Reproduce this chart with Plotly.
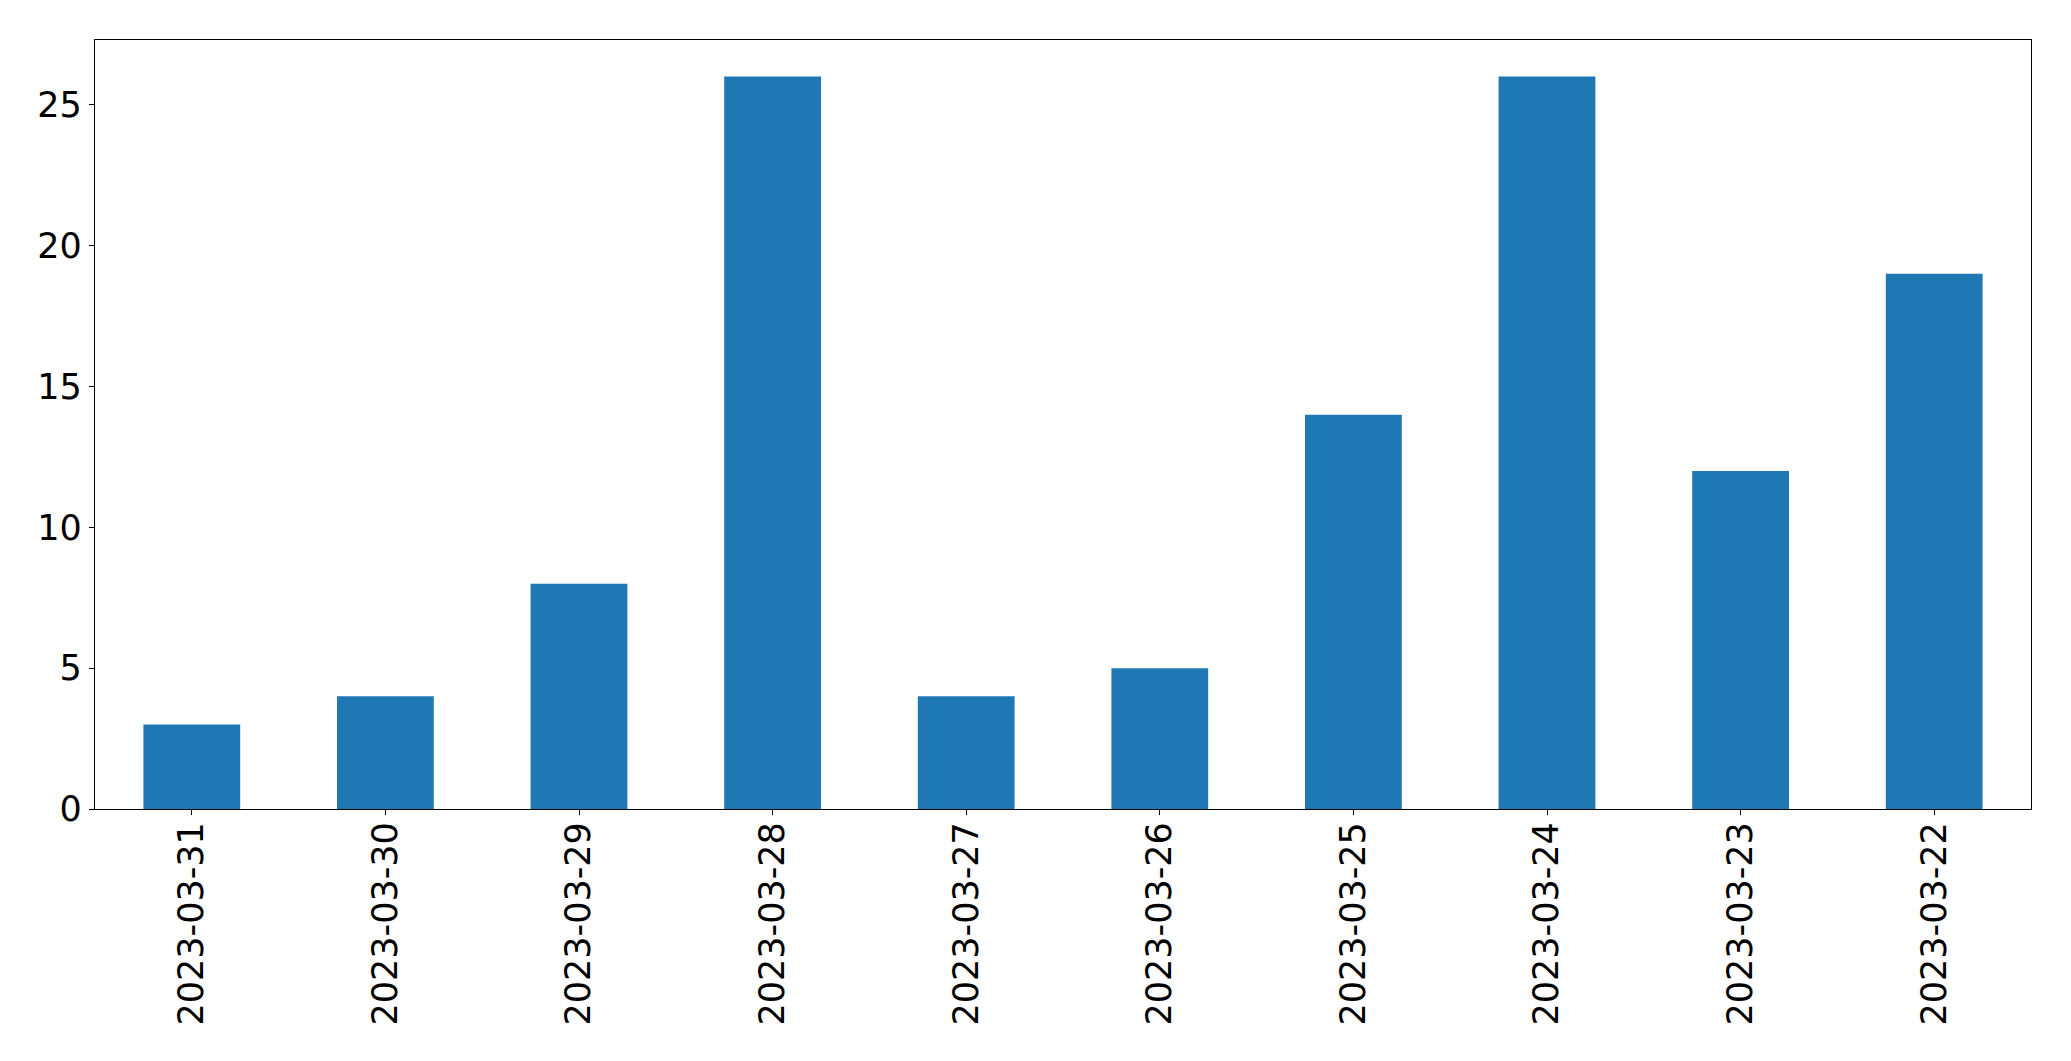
import plotly.graph_objects as go

dates = ["2023-03-31", "2023-03-30", "2023-03-29", "2023-03-28", "2023-03-27",
         "2023-03-26", "2023-03-25", "2023-03-24", "2023-03-23", "2023-03-22"]
counts = [3, 4, 8, 26, 4, 5, 14, 26, 12, 19]
y_ticks = [0, 5, 10, 15, 20, 25]

fig = go.Figure(go.Bar(x=dates, y=counts, marker=dict(color="#1f77b4", line=dict(width=0)), width=0.5))

font = dict(family="DejaVu Sans", size=35, color="black")
fig.update_layout(
    width=2071, height=1061,
    margin=dict(l=94.5, r=39.5, t=39.5, b=251.5),
    paper_bgcolor="white", plot_bgcolor="white",
    showlegend=False,
    font=font,
)
fig.update_xaxes(
    type="category", range=[-0.5, 9.5],
    showline=True, linecolor="black", linewidth=1.3, mirror=True,
    ticks="outside", ticklen=5, tickwidth=1.3, tickcolor="black",
    tickangle=-90, tickfont=font, showgrid=False, zeroline=False,
    ticklabelstandoff=-7,
)
fig.update_yaxes(
    range=[0, 27.3], tickvals=y_ticks,
    showline=True, linecolor="black", linewidth=1.3, mirror=True,
    ticks="outside", ticklen=5, tickwidth=1.3, tickcolor="black",
    tickfont=font, showgrid=False, zeroline=False,
    ticklabelstandoff=0,
)
fig.write_html(
    "out.html",
    config={"displayModeBar": False},
    post_script="document.body.style.margin='0';document.body.style.overflow='hidden';",
)
